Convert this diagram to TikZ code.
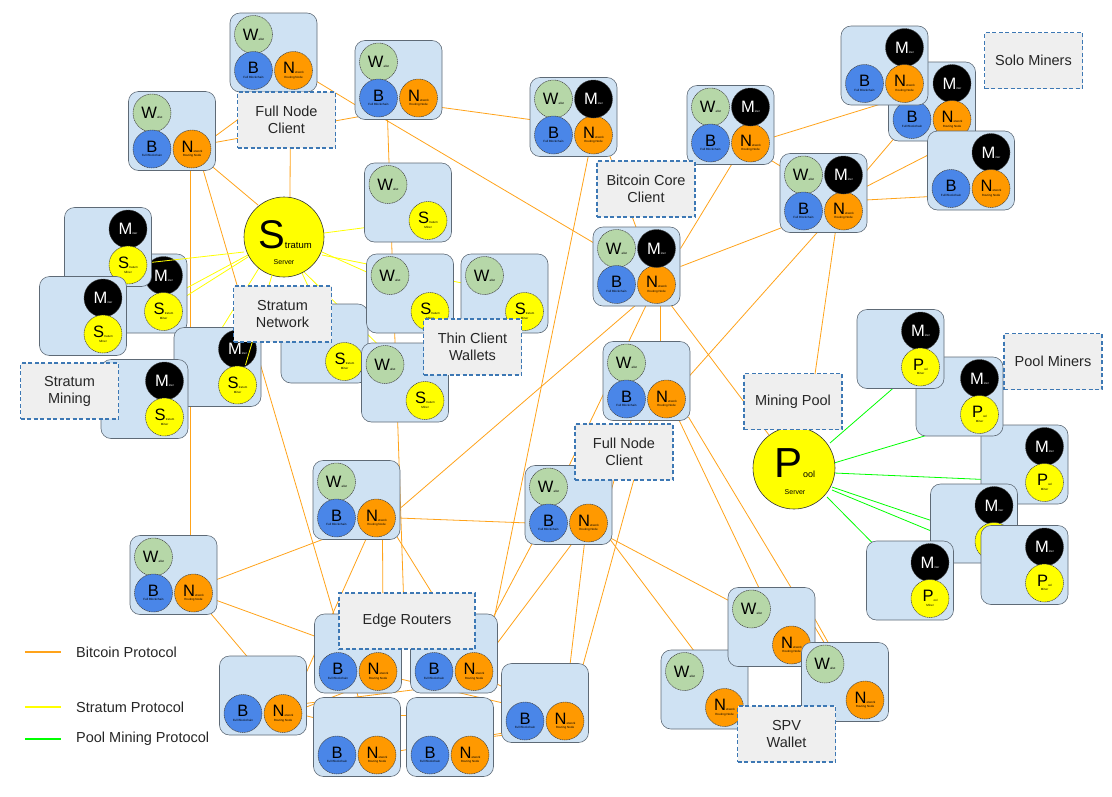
\documentclass[tikz,border=0pt]{standalone}
\usepackage{fontspec}
\setmainfont{Liberation Sans}
\usetikzlibrary{calc}
\definecolor{boxfill}{HTML}{CFE2F3}
\definecolor{boxline}{HTML}{5E6A76}
\definecolor{wgreen}{HTML}{B6D7A8}
\definecolor{bblue}{HTML}{4A86E8}
\definecolor{norange}{HTML}{FF9900}
\definecolor{syellow}{HTML}{FFFF00}
\definecolor{lblfill}{HTML}{EFEFEF}
\definecolor{lbldraw}{HTML}{3D78B4}
\definecolor{btcline}{HTML}{FFA31A}
\definecolor{strline}{HTML}{FFFF00}
\definecolor{poolline}{HTML}{00FF00}
\pgfdeclarelayer{bg}\pgfdeclarelayer{lowbox}\pgfdeclarelayer{midline}\pgfdeclarelayer{over}\pgfdeclarelayer{top}
\pgfsetlayers{bg,lowbox,midline,main,over,top}
\newcommand\bigLtr{\fontsize{16.5}{17}\selectfont}
\newcommand\tinyTx{\fontsize{3}{3.6}\selectfont}
\newcommand\myBox[3]{\node[nbox] (#1) at (#2,#3) {};}
\newcommand\myW[1]{\node[circW] (#1w) at ($(#1)+(-20,-18)$) {{\bigLtr W}allet};}
\newcommand\myM[1]{\node[circM] (#1m) at ($(#1)+(20,-18)$) {{\bigLtr M}iner};}
\newcommand\myB[1]{\node[circB] (#1b) at ($(#1)+(-20,18)$) {{\bigLtr B}\\[1pt]Full Blockchain};}
\newcommand\myN[1]{\node[circN] (#1n) at ($(#1)+(20,18)$) {{\bigLtr N}etwork\\[1pt]Routing Node};}
\newcommand\myS[1]{\node[circS] (#1s) at ($(#1)+(20,18)$) {{\bigLtr S}tratum\\[1pt]Miner};}
\newcommand\myP[1]{\node[circS] (#1p) at ($(#1)+(20,18)$) {{\bigLtr P}ool\\[1pt]Miner};}
\newcommand\myFull[3]{\myBox{#1}{#2}{#3}\myW{#1}\myB{#1}\myN{#1}}
\newcommand\myFullM[3]{\myFull{#1}{#2}{#3}\myM{#1}}
\newcommand\mySolo[3]{\myBox{#1}{#2}{#3}\myM{#1}\myB{#1}\myN{#1}}
\newcommand\myThin[3]{\myBox{#1}{#2}{#3}\myW{#1}\myS{#1}}
\newcommand\mySpv[3]{\myBox{#1}{#2}{#3}\myW{#1}\myN{#1}}
\newcommand\myEr[3]{\myBox{#1}{#2}{#3}\myB{#1}\myN{#1}}
\newcommand\myStm[3]{\myBox{#1}{#2}{#3}\myM{#1}\myS{#1}}
\newcommand\myPm[3]{\myBox{#1}{#2}{#3}\myM{#1}\myP{#1}}
\tikzset{
  nbox/.style={rectangle, rounded corners=10pt, minimum width=87pt, minimum height=79pt, inner sep=0pt, fill=boxfill, draw=boxline, line width=0.6pt},
  circbase/.style={circle, minimum size=38pt, inner sep=0pt, draw=black!75, line width=0.5pt, dash pattern=on 1.2pt off 0.6pt, align=center, font=\tinyTx},
  circW/.style={circbase, fill=wgreen},
  circB/.style={circbase, fill=bblue},
  circN/.style={circbase, fill=norange},
  circM/.style={circbase, fill=black, text=white},
  circS/.style={circbase, fill=syellow},
  lbl/.style={rectangle, fill=lblfill, draw=lbldraw, dash pattern=on 4pt off 2.5pt, line width=1.3pt, align=center, font=\fontsize{14.5}{17}\selectfont, text=black!85, inner sep=0pt, minimum width=98pt, minimum height=56pt},
  bp/.style={draw=btcline, line width=0.8pt},
  sp/.style={draw=strline, line width=0.8pt},
  pp/.style={draw=poolline, line width=0.8pt},
  legtxt/.style={anchor=west, inner sep=0pt, font=\fontsize{14.5}{17}\selectfont, text=black!85},
  bigc/.style={circle, inner sep=0pt, fill=syellow, draw=black!80, line width=0.6pt}
}
\begin{document}
\begin{tikzpicture}[x=1pt,y=-1pt]
\useasboundingbox (0,0) rectangle (1112,796);
\begin{pgfonlayer}{bg}
\fill[white] (0,0) rectangle (1112,796);
\end{pgfonlayer}
% big servers
\node[bigc, minimum size=80pt] (SS) at (284,237) {};
\node[anchor=base, inner sep=0pt] (SSt) at (285,248) {\fontsize{40}{40}\selectfont S\fontsize{9.5}{10}\selectfont tratum};
\node[inner sep=0pt, font=\fontsize{7}{8}\selectfont] (SSs) at (284,262) {Server};
\node[bigc, minimum size=82pt] (PS) at (794,468) {};
\node[anchor=base, inner sep=0pt] (PSt) at (795,477) {\fontsize{42}{42}\selectfont P\fontsize{9}{10}\selectfont ool};
\node[inner sep=0pt, font=\fontsize{7}{8}\selectfont] (PSs) at (795,492) {Server};
% full nodes
\myFull{A}{172}{131}
\myFull{FB}{273.5}{52.5}
\myFull{C}{398.5}{80}
\myFullM{D}{573.5}{117}
\myFullM{E}{730.5}{125}
\myFullM{I}{823.5}{193}
\myFullM{J}{636.5}{266.5}
\myFull{K}{646.5}{381}
\myFull{L}{356.5}{500}
\myFull{Mb}{568.5}{505}
\myFull{Nb}{173.5}{575}
% solo miners
\mySolo{G}{932}{101.5}
\mySolo{F}{884.5}{65.5}
\mySolo{H}{971}{170.5}
% thin clients
\myBox{TC4}{324.5}{343.5}\myS{TC4}
\myThin{TC5}{405}{382.5}
\myThin{TC1}{408}{202.5}
\myThin{TC2}{410}{293.5}
\myThin{TC3}{504.5}{293.5}
% SPV
\mySpv{S2}{704.5}{689.5}
\mySpv{S1}{771.5}{627}
\mySpv{S3}{845}{682}
% edge routers
\myEr{ER1}{358}{653.5}
\myEr{ER2}{454}{653.5}
\myEr{ER3}{263}{695.5}
\myEr{ER4}{357}{737}
\myEr{ER5}{450}{737}
\myEr{ER6}{545}{703}
% stratum miners
\begin{pgfonlayer}{lowbox}
\myStm{SM2}{143.5}{293.5}
\end{pgfonlayer}
\myStm{SM1}{108}{247}
\myStm{SM3}{83}{316}
\myStm{SM5}{217.5}{367}
\myStm{SM4}{144.5}{399}
% pool miners
\myPm{PM3}{1024.5}{464.5}
\myPm{PM4}{974}{523.5}
\myPm{PM6}{910}{580.5}
\myPm{PM5}{1024.5}{565}
\myPm{PM2}{959.5}{396.5}
\myPm{PM1}{900.5}{349}
% labels
\begin{pgfonlayer}{top}
\node[lbl] (lFNC1) at (286.5,120) {Full Node\\Client};
\node[lbl] (lBCC) at (646,189) {Bitcoin Core\\Client};
\node[lbl] (lFNC2) at (624,452) {Full Node\\Client};
\node[lbl] (lMP) at (793,401.5) {Mining Pool};
\node[lbl] (lPM) at (1053,361.5) {Pool Miners};
\node[lbl] (lSoM) at (1033.5,60.5) {Solo Miners};
\node[lbl] (lSN) at (282.5,314) {Stratum\\Network};
\node[lbl] (lTCW) at (472.5,347) {Thin Client\\Wallets};
\node[lbl] (lSMi) at (69.5,391) {Stratum\\Mining};
\node[lbl, minimum width=136pt] (lER) at (407,621) {Edge Routers};
\node[lbl] (lSPV) at (786.5,734) {SPV\\Wallet};
\end{pgfonlayer}
% legend
\coordinate (lg1a) at (25,652); \coordinate (lg1b) at (61,652);
\coordinate (lg2a) at (25,707); \coordinate (lg2b) at (61,707);
\coordinate (lg3a) at (25,739); \coordinate (lg3b) at (61,739);
\draw[bp, line width=1.6pt] (lg1a) -- (lg1b);
\draw[sp, line width=1.6pt] (lg2a) -- (lg2b);
\draw[pp, line width=1.6pt] (lg3a) -- (lg3b);
\node[legtxt] (lg1t) at (76,652) {Bitcoin Protocol};
\node[legtxt] (lg2t) at (76,707) {Stratum Protocol};
\node[legtxt] (lg3t) at (76,739) {Pool Mining Protocol};
% special stratum lines
\begin{pgfonlayer}{midline}
\draw[sp] ($(SS)+(-40,15)$) -- ($(SM1)+(20,18)$);
\end{pgfonlayer}
\begin{pgfonlayer}{over}
\draw[sp] ($(SS)+(-12,38)$) -- ($(SM5)+(28,-2)$);
\end{pgfonlayer}
% connectors
\begin{pgfonlayer}{bg}
\draw[bp] ($(A)+(38,9)$) -- ($(FB)+(12,32)$);
\draw[bp] ($(A)+(40,12)$) -- ($(C)+(-36,36)$);
\draw[bp] ($(A)+(36,32)$) -- ($(SS)+(-26,-32)$);
\draw[bp] ($(A)+(18,30)$) -- ($(Nb)+(16.5,-30)$);
\draw[bp] ($(A)+(30,35)$) -- ($(ER4)+(13,0)$);
\draw[bp] ($(FB)+(17,37)$) -- ($(SS)+(6,-39)$);
\draw[bp] ($(FB)+(40,27)$) -- ($(C)+(-38,28)$);
\draw[bp] ($(C)+(40,27)$) -- ($(D)+(-40,3)$);
\draw[bp] ($(C)+(-16,38)$) -- ($(J)+(-40,-22)$);
\draw[bp] ($(C)+(-11,38)$) -- ($(ER1)+(47,-13)$);
\draw[bp] ($(D)+(36,38)$) -- ($(J)+(0,-38)$);
\draw[bp] ($(D)+(15,38)$) -- ($(ER2)+(32,5)$);
\draw[bp] ($(E)+(2,38)$) -- ($(J)+(44,-18)$);
\draw[bp] ($(E)+(40,13)$) -- ($(F)+(-2,38)$);
\draw[bp] ($(E)+(40,35)$) -- ($(I)+(-40,-25)$);
\draw[bp] ($(J)+(44,0)$) -- ($(I)+(-40,34)$);
\draw[bp] ($(J)+(0,38)$) -- ($(L)+(44,8)$);
\draw[bp] ($(J)+(24,38)$) -- ($(K)+(14,-38)$);
\draw[bp] ($(J)+(10,38)$) -- ($(Mb)+(0,-38)$);
\draw[bp] ($(J)+(34,38)$) -- ($(PS)+(-25,-33)$);
\draw[bp] ($(I)+(-5,38)$) -- ($(K)+(42,-4)$);
\draw[bp] ($(I)+(12,38)$) -- ($(PS)+(13,-38)$);
\draw[bp] ($(I)+(42,-21)$) -- ($(G)+(-38,37)$);
\draw[bp] ($(I)+(42,-6)$) -- ($(H)+(-40,-17)$);
\draw[bp] ($(I)+(42,7)$) -- ($(H)+(-40,26)$);
\draw[bp] ($(K)+(-15,38)$) -- ($(Mb)+(42,-12)$);
\draw[bp] ($(K)+(4,38)$) -- ($(ER6)+(38,-38)$);
\draw[bp] ($(K)+(32,38)$) -- ($(S1)+(-12,-38)$);
\draw[bp] ($(K)+(42,36)$) -- ($(S3)+(-20,-38)$);
\draw[bp] ($(Mb)+(40,32)$) -- ($(S1)+(-40,-25)$);
\draw[bp] ($(Mb)+(42,35)$) -- ($(S2)+(-10,-38)$);
\draw[bp] ($(Mb)+(-36,38)$) -- ($(ER2)+(20,0)$);
\draw[bp] ($(Mb)+(4,38)$) -- ($(ER2)+(34,2)$);
\draw[bp] ($(Mb)+(16,38)$) -- ($(ER6)+(25,-38)$);
\draw[bp] ($(L)+(42,18)$) -- ($(Mb)+(-40,18)$);
\draw[bp] ($(L)+(-30,38)$) -- ($(Nb)+(42,5)$);
\draw[bp] ($(L)+(10,38)$) -- ($(ER3)+(42,-20)$);
\draw[bp] ($(L)+(26,38)$) -- ($(ER1)+(25,-38)$);
\draw[bp] ($(L)+(40,36)$) -- ($(ER2)+(-8,-38)$);
\draw[bp] ($(Nb)+(42,25)$) -- ($(ER1)+(10,2)$);
\draw[bp] ($(Nb)+(36,37)$) -- ($(ER3)+(-15,-38)$);
\draw[bp] ($(ER3)+(42,12)$) -- ($(ER1)+(10,30)$);
\draw[bp] ($(ER3)+(42,8)$) -- ($(ER2)+(10,30)$);
\draw[bp] ($(ER3)+(42,20)$) -- ($(ER4)+(-42,-19)$);
\draw[bp] ($(ER4)+(42,-22)$) -- ($(ER5)+(-42,-22)$);
\draw[bp] ($(ER4)+(36,15)$) -- ($(ER6)+(-42,30)$);
\draw[bp] ($(ER5)+(38,0)$) -- ($(ER6)+(-40,32)$);
\draw[bp] ($(ER1)+(36,24)$) -- ($(ER6)+(-42,0)$);
\draw[bp] ($(ER2)+(38,28)$) -- ($(ER6)+(-42,-16)$);
\draw[bp] ($(S1)+(40,-14)$) -- ($(S3)+(-16,-38)$);
% stratum
\draw[sp] ($(SS)+(40,-4)$) -- ($(TC1)+(-42,25)$);
\draw[sp] ($(SS)+(38,15)$) -- ($(TC2)+(-40,-20)$);
\draw[sp] ($(SS)+(38,18)$) -- ($(TC3)+(-40,-10)$);
\draw[sp] ($(SS)+(16,31)$) -- ($(TC5)+(-25,-36)$);
\draw[sp] ($(SS)+(18,36)$) -- ($(TC4)+(18,17)$);
\draw[sp] ($(SS)+(-25,31)$) -- ($(SM4)+(36,-4)$);
\draw[sp] ($(SS)+(-36,18)$) -- ($(SM3)+(20,17)$);
\draw[sp] ($(SS)+(-36,20)$) -- ($(SM2)+(20,17)$);
% pool
\draw[pp] ($(PS)+(36,-25)$) -- ($(PM1)+(-6,38)$);
\draw[pp] ($(PS)+(40,-5)$) -- ($(PM2)+(-30,38)$);
\draw[pp] ($(PS)+(40,5)$) -- ($(PM3)+(-40,15)$);
\draw[pp] ($(PS)+(38,19)$) -- ($(PM4)+(-40,-2)$);
\draw[pp] ($(PS)+(38,22)$) -- ($(PM5)+(-40,-12)$);
\draw[pp] ($(PS)+(33,29)$) -- ($(PM6)+(-38,-38)$);
\end{pgfonlayer}
\end{tikzpicture}
\end{document}
